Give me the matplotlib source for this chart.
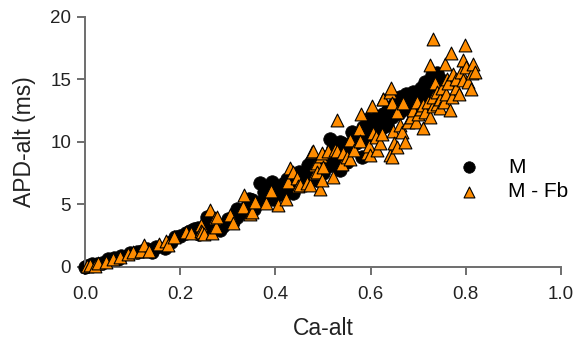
import matplotlib
matplotlib.use("Agg")
import matplotlib.pyplot as plt

plt.rcParams["font.family"] = ["Liberation Sans", "DejaVu Sans"]

# M (black circles)
m_x = [0.000, 0.005, 0.015, 0.025, 0.035, 0.048, 0.060, 0.070, 0.075, 0.094,
       0.110, 0.120, 0.130, 0.140, 0.150, 0.167, 0.180, 0.190, 0.200, 0.212,
       0.220, 0.230, 0.238, 0.240, 0.255, 0.256, 0.260, 0.270, 0.284, 0.290,
       0.300, 0.310, 0.319, 0.320, 0.330, 0.340, 0.345, 0.350, 0.355, 0.360,
       0.368, 0.370, 0.375, 0.380, 0.385, 0.392, 0.395, 0.400, 0.410, 0.415,
       0.420, 0.425, 0.430, 0.437, 0.440, 0.445, 0.450, 0.459, 0.460, 0.469,
       0.473, 0.475, 0.480, 0.487, 0.490, 0.490, 0.500, 0.505, 0.510, 0.515,
       0.520, 0.522, 0.530, 0.535, 0.536, 0.540, 0.545, 0.550, 0.555, 0.560,
       0.565, 0.570, 0.575, 0.581, 0.585, 0.590, 0.595, 0.599, 0.605, 0.610,
       0.613, 0.620, 0.625, 0.627, 0.634, 0.634, 0.637, 0.645, 0.650, 0.655,
       0.660, 0.662, 0.670, 0.675, 0.680, 0.690, 0.695, 0.700, 0.705, 0.711,
       0.715, 0.720, 0.725, 0.728, 0.735, 0.740, 0.745, 0.750]
m_y = [0.00, 0.05, 0.20, 0.25, 0.35, 0.64, 0.70, 0.60, 0.85, 1.10,
       1.20, 1.25, 1.40, 1.20, 1.60, 1.50, 2.00, 2.40, 2.50, 2.70,
       2.90, 3.00, 3.10, 2.60, 3.20, 4.00, 3.70, 3.50, 2.96, 3.30,
       3.80, 3.60, 4.00, 4.60, 4.40, 4.90, 5.40, 5.36, 4.60, 5.00,
       6.70, 5.20, 6.00, 5.50, 6.20, 6.80, 5.40, 6.30, 5.80, 6.60,
       6.20, 7.00, 6.40, 5.90, 6.80, 7.00, 7.60, 7.20, 6.80, 8.16,
       7.90, 8.40, 7.00, 6.96, 8.50, 7.60, 7.50, 8.80, 8.10, 10.20,
       9.50, 8.56, 9.60, 10.00, 7.76, 8.80, 9.80, 8.40, 9.50, 10.80,
       10.30, 9.90, 10.60, 8.80, 11.20, 10.20, 11.80, 10.96, 11.50, 11.40,
       12.00, 11.00, 12.20, 11.20, 12.40, 11.36, 12.56, 12.00, 13.00, 12.90,
       12.30, 13.60, 12.60, 13.80, 13.20, 14.00, 13.20, 13.50, 14.30, 13.76,
       14.80, 14.60, 14.00, 15.36, 14.20, 15.50, 15.00, 13.50]

# M - Fb (orange triangles)
fb_x = [0.005, 0.010, 0.020, 0.027, 0.045, 0.059, 0.073, 0.090, 0.100, 0.117,
        0.123, 0.134, 0.155, 0.170, 0.174, 0.187, 0.212, 0.223, 0.244, 0.244,
        0.245, 0.250, 0.263, 0.266, 0.273, 0.275, 0.277, 0.305, 0.310, 0.331,
        0.333, 0.347, 0.350, 0.357, 0.380, 0.390, 0.406, 0.422, 0.426, 0.430,
        0.436, 0.445, 0.448, 0.452, 0.466, 0.473, 0.476, 0.478, 0.483, 0.483,
        0.487, 0.487, 0.494, 0.495, 0.497, 0.497, 0.500, 0.511, 0.522, 0.525,
        0.529, 0.529, 0.539, 0.543, 0.550, 0.556, 0.557, 0.566, 0.576, 0.578,
        0.580, 0.593, 0.597, 0.599, 0.602, 0.606, 0.612, 0.614, 0.620, 0.623,
        0.625, 0.627, 0.640, 0.641, 0.642, 0.644, 0.644, 0.648, 0.649, 0.655,
        0.655, 0.662, 0.665, 0.669, 0.672, 0.679, 0.685, 0.690, 0.695, 0.697,
        0.700, 0.705, 0.709, 0.711, 0.715, 0.720, 0.725, 0.725, 0.730, 0.730,
        0.732, 0.735, 0.740, 0.740, 0.746, 0.746, 0.750, 0.755, 0.756, 0.758,
        0.760, 0.763, 0.766, 0.768, 0.770, 0.774, 0.779, 0.780, 0.785, 0.790,
        0.795, 0.795, 0.798, 0.800, 0.805, 0.810, 0.812, 0.815, 0.820]
fb_y = [0.05, 0.16, 0.10, 0.35, 0.40, 0.64, 0.83, 1.00, 1.23, 1.31,
        1.76, 1.31, 1.81, 2.10, 1.76, 2.37, 2.83, 2.70, 3.36, 2.90,
        2.80, 2.60, 4.56, 2.70, 3.90, 3.20, 4.00, 4.16, 3.55, 4.80,
        5.76, 4.20, 4.43, 5.20, 5.10, 6.08, 4.96, 5.40, 6.80, 7.90,
        7.60, 7.10, 6.50, 6.56, 6.70, 6.56, 9.20, 9.30, 7.55, 8.16,
        8.30, 7.60, 6.20, 8.90, 6.96, 9.10, 8.00, 9.30, 7.20, 9.36,
        9.30, 11.76, 8.20, 9.10, 8.80, 8.60, 10.16, 9.36, 11.00, 10.10,
        12.24, 9.10, 9.70, 8.96, 12.90, 10.70, 10.40, 9.36, 9.95, 10.60,
        13.40, 13.44, 14.00, 8.96, 14.30, 13.10, 8.80, 10.90, 9.90, 9.60,
        12.40, 11.36, 10.80, 13.10, 10.00, 11.56, 12.00, 12.56, 11.60, 13.20,
        12.20, 12.60, 11.14, 12.96, 12.40, 13.20, 12.00, 16.16, 18.24, 12.90,
        13.60, 14.70, 14.00, 13.00, 13.44, 12.70, 14.30, 13.20, 16.20, 13.80,
        15.00, 14.70, 12.56, 17.10, 13.60, 15.40, 14.30, 15.00, 13.80, 15.60,
        14.96, 16.56, 17.76, 16.00, 14.80, 14.20, 15.50, 16.20, 15.60]

x_ticks = [0.0, 0.2, 0.4, 0.6, 0.8, 1.0]
x_labels = ["0.0", "0.2", "0.4", "0.6", "0.8", "1.0"]
y_ticks = [0, 5, 10, 15, 20]

fig = plt.figure(figsize=(5.76, 3.44), dpi=100)
ax = fig.add_axes([0.1476, 0.224, 0.8264, 0.727])

ax.scatter(m_x, m_y, s=95, marker="o", color="black", edgecolor="black",
           linewidth=0.5, label="M", clip_on=False, zorder=2)
ax.scatter(fb_x, fb_y, s=85, marker="^", color="#ff8c00", edgecolor="black",
           linewidth=0.8, label="M - Fb", clip_on=False, zorder=3)

ax.set_xlim(0, 1.0)
ax.set_ylim(0, 20)
ax.set_xticks(x_ticks)
ax.set_xticklabels(x_labels)
ax.set_yticks(y_ticks)

for side in ["top", "right"]:
    ax.spines[side].set_visible(False)
for side in ["left", "bottom"]:
    ax.spines[side].set_color("#6e6e6e")
    ax.spines[side].set_linewidth(1.4)

ax.tick_params(axis="both", direction="out", length=6, width=1.4,
               color="#6e6e6e", labelsize=13.5, labelcolor="#222222")
ax.tick_params(axis="x", pad=8)
ax.tick_params(axis="y", pad=4)

ax.set_xlabel("Ca-alt", fontsize=16.5, color="#222222", labelpad=10)
ax.set_ylabel("APD-alt (ms)", fontsize=16.5, color="#222222", labelpad=10)

ax.legend(loc="center left", bbox_to_anchor=(0.745, 0.35), frameon=False,
          fontsize=15, handletextpad=0.9, labelspacing=0.25, markerscale=0.85,
          scatterpoints=1, borderaxespad=0)

fig.savefig("out.png", dpi=100)
